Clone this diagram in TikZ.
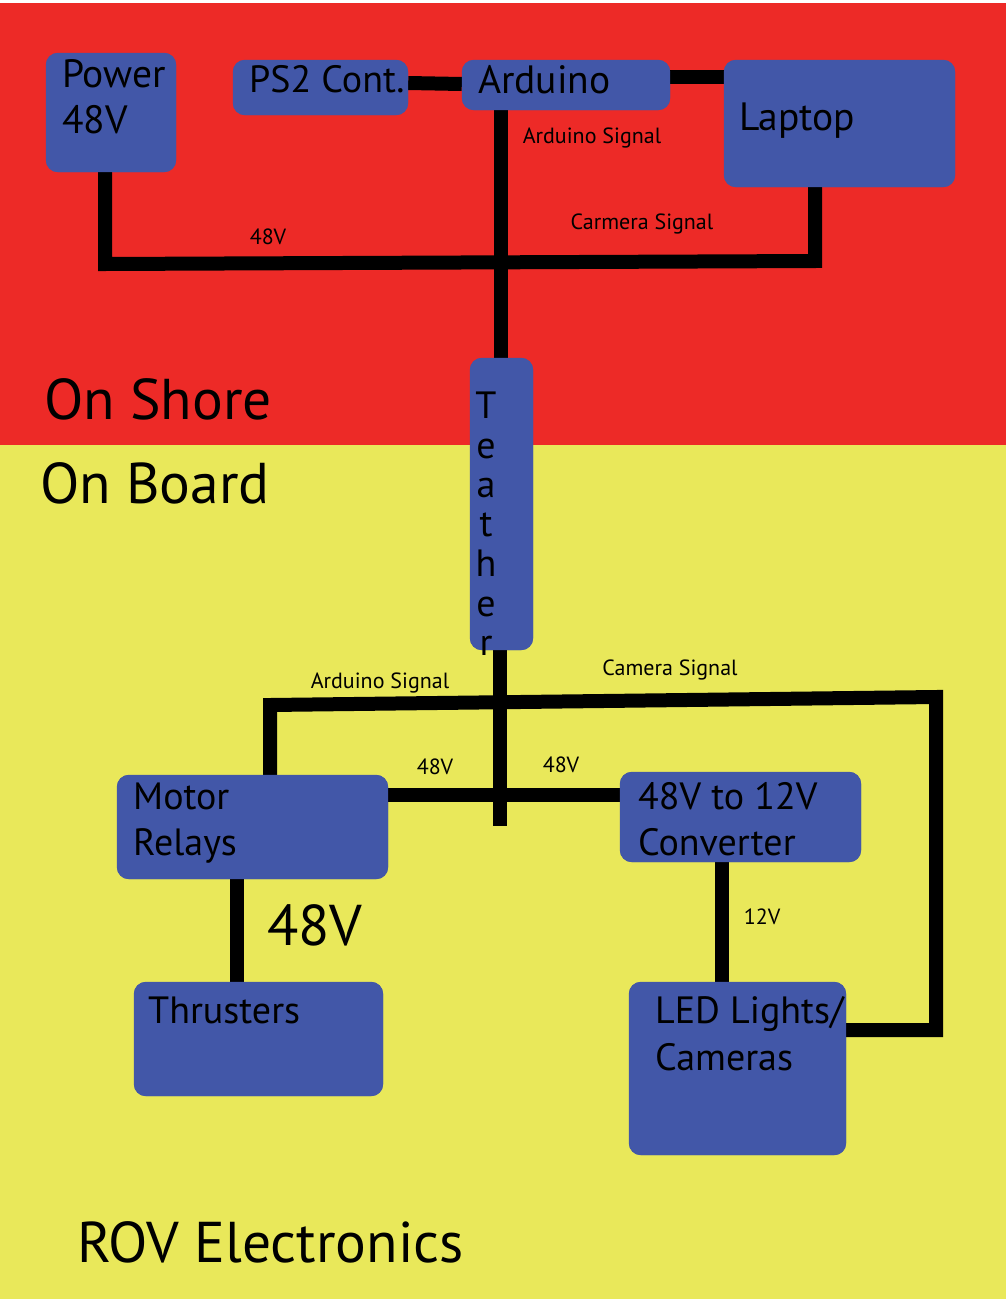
\documentclass[tikz,border=0pt]{standalone}
\usepackage{fontspec}
\setmainfont{PT Sans}
\definecolor{shore}{RGB}{237,42,39}
\definecolor{board}{RGB}{233,232,90}
\definecolor{boxblue}{RGB}{66,87,168}
\begin{document}
\begin{tikzpicture}[x=1pt,y=-1pt,
  blk/.style={fill=boxblue, rounded corners=12pt, draw=none, inner sep=0pt},
  wire/.style={line width=14pt, draw=black},
  boxtxt/.style={anchor=base west, inner sep=0pt, font=\fontsize{38}{42}\selectfont},
  toptxt/.style={boxtxt, font=\fontsize{39.5}{42}\selectfont},
  small/.style={anchor=base, inner sep=0pt, font=\fontsize{22}{24}\selectfont},
  big/.style={anchor=base west, inner sep=0pt, font=\fontsize{57.5}{62}\selectfont}]
\useasboundingbox (0,0) rectangle (1006,1301);
\fill[white] (0,0) rectangle (1006,1301);
\fill[shore] (0,3) rectangle (1006,445);
\fill[board] (0,445) rectangle (1006,1299);

% junction coordinates
\coordinate (jtop) at (501,262);
\coordinate (pwrc) at (105,264);
\coordinate (lapc) at (815,261);
\coordinate (jbl) at (270,705);
\coordinate (jbr) at (936,697);
\coordinate (jend) at (500,826);
\coordinate (ledc) at (936,1030);

% boxes
\node[blk, minimum width=130pt, minimum height=119pt] (power) at (111,112.5) {};
\node[blk, minimum width=175pt, minimum height=55pt] (ps2) at (320.5,87.5) {};
\node[blk, minimum width=208pt, minimum height=50pt] (ard) at (566,85) {};
\node[blk, minimum width=231pt, minimum height=127pt] (lap) at (839.5,123.5) {};
\node[blk, minimum width=63pt, minimum height=292pt] (teth) at (501.5,504) {};
\node[blk, minimum width=271pt, minimum height=104pt] (motor) at (252.5,827) {};
\node[blk, minimum width=241pt, minimum height=90pt] (conv) at (740.5,817) {};
\node[blk, minimum width=249pt, minimum height=114pt] (thr) at (258.5,1039) {};
\node[blk, minimum width=217pt, minimum height=173pt] (led) at (737.5,1068.5) {};

% connectors
\draw[wire] (ps2.east |- 0,83) -- (ard.west |- 0,84);
\draw[wire] (ard.east |- 0,77) -- (lap.west |- 0,77);
\draw[wire] (ard.south -| jtop) -- (teth.north -| jtop);
\draw[wire] (power.south -| pwrc) -- (pwrc) -- (lapc) -- (lap.south -| lapc);
\draw[wire] (teth.south -| jend) -- (jend);
\draw[wire] (motor.north -| jbl) -- (jbl) -- (jbr) -- (ledc) -- (led.east |- ledc);
\draw[wire] (motor.east |- 0,795) -- (conv.west |- 0,795);
\draw[wire] (motor.south -| 237,0) -- (thr.north -| 237,0);
\draw[wire] (conv.south -| 722,0) -- (led.north -| 722,0);

% redraw boxes on top of wire ends
\foreach \b in {power,ps2,ard,lap,teth,motor,conv,thr,led}
  \fill[boxblue, rounded corners=12pt] (\b.south west) rectangle (\b.north east);

% box texts
\node[toptxt] (tpow1) at (62,87) {Power};
\node[toptxt] (tpow2) at (62,133) {48V};
\node[boxtxt] (tps2) at (249,92) {PS2 Cont.};
\node[toptxt] (tard) at (478,93) {Arduino};
\node[toptxt] (tlap) at (739,130) {Laptop};
\node[boxtxt] (tmot1) at (133,809) {Motor};
\node[boxtxt] (tmot2) at (133,855) {Relays};
\node[boxtxt] (tconv1) at (638,809) {48V to 12V};
\node[boxtxt] (tconv2) at (638,855) {Converter};
\node[boxtxt] (tthr) at (148,1023) {Thrusters};
\node[boxtxt] (tled1) at (655,1023) {LED Lights/};
\node[boxtxt] (tled2) at (655,1070) {Cameras};
\foreach \ch/\yy [count=\i] in {T/418,e/458,a/497,t/536,h/576,e/616,r/655}
  \node[boxtxt, anchor=base] (tt\i) at (486,\yy) {\ch};

% wire labels
\node[small] (l48a) at (268,244) {48V};
\node[small] (lards) at (592,143) {Arduino Signal};
\node[small] (lcams) at (642,229) {Carmera Signal};
\node[small] (lards2) at (380,688) {Arduino Signal};
\node[small] (lcams2) at (670,675) {Camera Signal};
\node[small] (l48b) at (435,774) {48V};
\node[small] (l48c) at (561,772) {48V};
\node[small] (l12) at (762,924) {12V};

% titles
\node[big] (shore) at (44,419) {On Shore};
\node[big] (board) at (40,503) {On Board};
\node[big] (big48) at (267,945) {48V};
\node[big] (rov) at (77,1262) {ROV Electronics};
\end{tikzpicture}
\end{document}
